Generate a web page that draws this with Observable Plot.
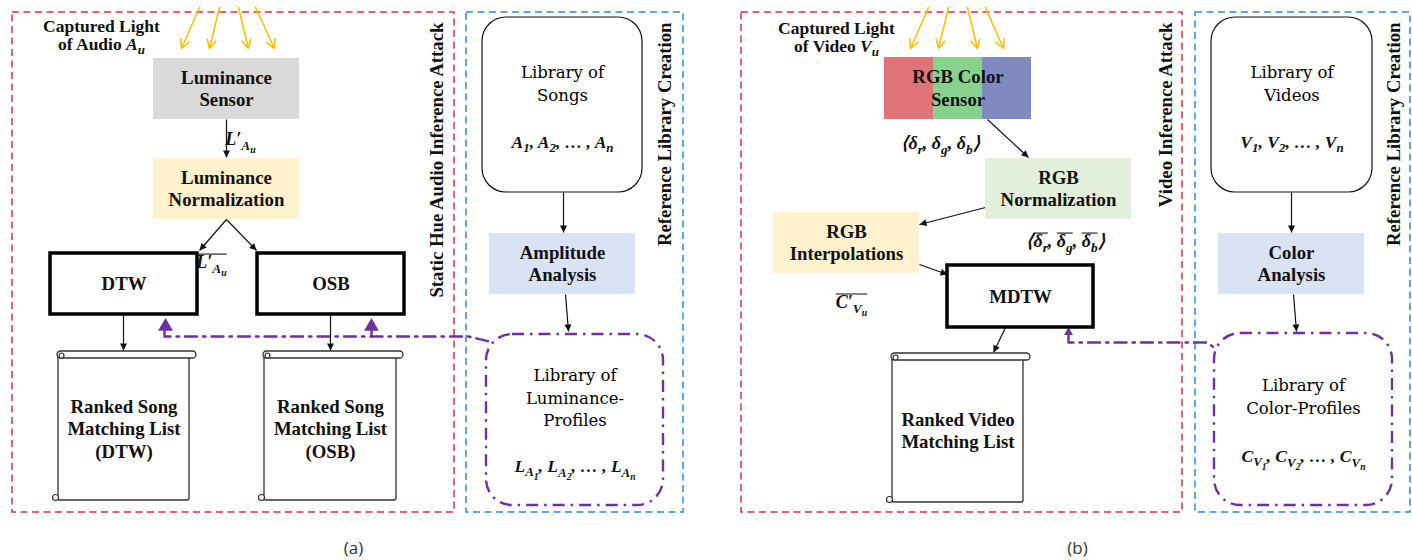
<!DOCTYPE html>
<html><head><meta charset="utf-8">
<script src="https://cdn.jsdelivr.net/npm/d3@7"></script>
<script src="https://cdn.jsdelivr.net/npm/@observablehq/plot@0.6"></script>
<style>html,body{margin:0;padding:0;background:#fff}</style>
</head><body><div id="chart"></div>
<script>
// ---------------- diagram content ----------------
const frameNames = ["Static Hue Audio Inference Attack", "Reference Library Creation", "Video Inference Attack", "Reference Library Creation"];
const frameKinds = ["attack", "library", "attack", "library"];
const frameLayout = [[12,454,12,512,436],[466,683,12,512,664],[741,1182,12,512,1165],[1195,1410,12,512,1393]];

const processLabels = [["Luminance","Sensor"],["Luminance","Normalization"],["Amplitude","Analysis"],["RGB","Normalization"],["RGB","Interpolations"],["Color","Analysis"]];
const processKinds = ["sensor","normalize","analysis","normalize2","interp","analysis"];
const processLayout = [[153,299,58,119],[153,299,158,219],[489,635,233,294],[985,1131,158,219],[773,919,212,273],[1218,1364,233,294]];

const sensorLabel = ["RGB Color","Sensor"];
const sensorBands = ["red","green","blue"];
const sensorLayout = [[884,933,57,119],[933,982,57,119],[982,1031,57,119]];

const matcherNames = ["DTW","OSB","MDTW"];
const matcherLayout = [[50,197,253,314],[257,404,253,314],[947,1093,265,327]];

const listLabels = [["Ranked Song","Matching List","(DTW)"],["Ranked Song","Matching List","(OSB)"],["Ranked Video","Matching List"]];
const listLayout = [[58,196,351,500],[264,403,351,500],[892,1030,353,502]];

const libraryTitles = [["Library of","Songs"],["Library of","Videos"],["Library of","Luminance-","Profiles"],["Library of","Color-Profiles"]];
const libraryItems = ["A_{1}, A_{2}, … , A_{n}", "V_{1}, V_{2}, … , V_{n}", "L_{A_{1}}, L_{A_{2}}, … , L_{A_{n}}", "C_{V_{1}}, C_{V_{2}}, … , C_{V_{n}}"];
const libraryKinds = ["source","source","profile","profile"];
const libraryLayout = [[482,642,17,192,83.5,142],[1211,1372,17,192,83.5,142],[486,663,334,505,398,466],[1214,1392,333,505,396.5,456]];

const capturedLabels = [["Captured Light","of Audio *{A_{u}}"],["Captured Light","of Video *{V_{u}}"]];
const capturedLayout = [[101,26],[836,28]];

const signalLabels = ["L′_{A_{u}}", "~{L′_{A_{u}}}", "⟨δ_{r}, δ_{g}, δ_{b}⟩", "⟨~{δ_{r}}, ~{δ_{g}}, ~{δ_{b}}⟩", "~{C′_{V_{u}}}"];
const signalLayout = [[240,139,"start"],[211,262,"start"],[940,143,"middle"],[1065,241,"middle"],[851,302,"start"]];

// flow arrows [x1,y1,x2,y2]
const flows = [[226,119,226,157],[226,219,199,250],[226,219,256,250],[123,314,123,350],[330,314,330,350],[563,192,563,232],[565,294,568,331],
               [987,119,1028,157],[985,207,919,224],[919,264,947,274],[1005,327,993,352],[1291,192,1291,232],[1293,294,1296,331]];
// light rays [x1,y1,x2,y2]
const rays = [[199,7,181,48],[219,7,209,48],[238,7,248,48],[255,7,274,48],[928,7,910,48],[948,7,938,48],[967,7,977,48],[985,7,1003,48]];
// profile feedback connectors
const feedbackPaths = [[[164,330],[164,336],[468,336],[489,341]],[[371,330],[371,336]],[[1068,335],[1068,342],[1207,342],[1217,350]]];
const feedbackHeads = [[165,326,5.5],[371,326,5.5],[1068,332,3.3]];

const captions = ["(a)","(b)"];
const captionX = [353,1077];

// ---------------- styles ----------------
const fills = {sensor:"#d9d9d9", normalize:"#fff2cc", analysis:"#dae3f3", normalize2:"#e2efda", interp:"#fff2cc"};
const bandColors = {red:"#e07478", green:"#89d28e", blue:"#8189c1"};
const frameColors = {attack:"#d8333d", library:"#2e8ad4"};
const PURPLE = "#7030a0";
const BOLD = "Liberation Serif";
const BOOK = "DejaVu Serif";
const FS = 18.8;

// ---------------- build tables ----------------
const frames = frameNames.map((name,i)=>({name, kind:frameKinds[i], x1:frameLayout[i][0], x2:frameLayout[i][1], y1:frameLayout[i][2], y2:frameLayout[i][3], lx:frameLayout[i][4]}));
const procs = processLabels.map((lines,i)=>({lines, kind:processKinds[i], x1:processLayout[i][0], x2:processLayout[i][1], y1:processLayout[i][2], y2:processLayout[i][3]}));
const bands = sensorBands.map((b,i)=>({band:b, x1:sensorLayout[i][0], x2:sensorLayout[i][1], y1:sensorLayout[i][2], y2:sensorLayout[i][3]}));
const matchers = matcherNames.map((name,i)=>({name, x1:matcherLayout[i][0], x2:matcherLayout[i][1], y1:matcherLayout[i][2], y2:matcherLayout[i][3]}));
const lists = listLabels.map((lines,i)=>({lines, bx:listLayout[i][0], x2:listLayout[i][1], y1:listLayout[i][2], y2:listLayout[i][3]}));
const libs = libraryTitles.map((lines,i)=>({lines, item:libraryItems[i], kind:libraryKinds[i], x1:libraryLayout[i][0], x2:libraryLayout[i][1], y1:libraryLayout[i][2], y2:libraryLayout[i][3], ty:libraryLayout[i][4], my:libraryLayout[i][5]}));

function expandLines(items, cx, cy, lh) {
  const out = [];
  for (const d of items) {
    const n = d.lines.length;
    d.lines.forEach((t,j)=>out.push({t, x:cx(d), y:cy(d) + (j-(n-1)/2)*lh}));
  }
  return out;
}
const procText = expandLines(procs, d=>(d.x1+d.x2)/2, d=>(d.y1+d.y2)/2, 22);
const sensorText = expandLines([{lines:sensorLabel}], ()=>(bands[0].x1+bands[2].x2)/2, ()=>(bands[0].y1+bands[0].y2)/2, 22.5);
const listText = expandLines(lists, d=>(d.bx + d.x2 - 7)/2, d=>(d.y1+d.y2)/2 + 3, 22.5);
const libText = expandLines(libs, d=>(d.x1+d.x2)/2, d=>d.ty, 22.5);
const capText = expandLines(capturedLabels.map((lines,i)=>({lines, i})), d=>capturedLayout[d.i][0], d=>capturedLayout[d.i][1]+9, 18);
const signals = signalLabels.map((t,i)=>({t, x:signalLayout[i][0], y:signalLayout[i][1], a:signalLayout[i][2]}));
const flowRows = flows.map(([x1,y1,x2,y2])=>({x1,y1,x2,y2}));
const rayRows = rays.map(([x1,y1,x2,y2])=>({x1,y1,x2,y2}));
const fbRows = feedbackPaths.flatMap((p,k)=>p.map(([x,y])=>({x,y,k})));
const fbHeads = feedbackHeads.map(([x,y,r])=>({x,y,r}));
const capRows = captions.map((t,i)=>({t, x:captionX[i]}));

const svg = Plot.plot({
  width: 1412, height: 560,
  margin: 0,
  x: {domain:[0,1412], range:[0,1412], axis:null},
  y: {domain:[0,560], range:[0,560], axis:null},
  r: {type:"identity"},
  style: {background:"#fff"},
  marks: [
    // frames
    Plot.rect(frames, {x1:"x1", x2:"x2", y1:"y1", y2:"y2", fill:"none", stroke:d=>frameColors[d.kind], strokeWidth:1.5, strokeDasharray:"7,4.5"}),
    Plot.text(frames, {x:"lx", y:d=>d.y1+10, text:"name", rotate:-90, textAnchor:"end", fontFamily:BOLD, fontWeight:"bold", fontSize:FS, fill:"#111"}),
    // feedback connectors
    Plot.line(fbRows, {x:"x", y:"y", z:"k", stroke:PURPLE, strokeWidth:2.4, strokeDasharray:"12,6,2.5,6", curve:"linear"}),
    Plot.dot(fbHeads, {x:"x", y:"y", r:"r", symbol:"triangle", fill:PURPLE, stroke:"none"}),
    // light rays
    Plot.arrow(rayRows, {x1:"x1", y1:"y1", x2:"x2", y2:"y2", stroke:"#ffc000", strokeWidth:1.6, headLength:9, headAngle:55}),
    // flow arrows
    Plot.link(flowRows, {x1:"x1", y1:"y1", x2:"x2", y2:"y2", stroke:"#111", strokeWidth:1.2, ariaLabel:"flow"}),
    // process boxes
    Plot.rect(procs, {x1:"x1", x2:"x2", y1:"y1", y2:"y2", fill:d=>fills[d.kind]}),
    Plot.rect(bands, {x1:"x1", x2:"x2", y1:"y1", y2:"y2", fill:d=>bandColors[d.band]}),
    Plot.text(procText, {x:"x", y:"y", text:"t", fontFamily:BOLD, fontWeight:"bold", fontSize:FS, fill:"#111"}),
    Plot.text(sensorText, {x:"x", y:"y", text:"t", fontFamily:BOLD, fontWeight:"bold", fontSize:FS, fill:"#111"}),
    // matcher boxes
    Plot.rect(matchers, {x1:"x1", x2:"x2", y1:"y1", y2:"y2", fill:"#fff", stroke:"#000", strokeWidth:3.5}),
    Plot.text(matchers, {x:d=>(d.x1+d.x2)/2, y:d=>(d.y1+d.y2)/2, text:"name", fontFamily:BOLD, fontWeight:"bold", fontSize:FS, fill:"#111"}),
    // scrolls
    Plot.rect(lists, {x1:"bx", x2:d=>d.x2-7, y1:d=>d.y1+4, y2:"y2", fill:"#fff", stroke:"#333", strokeWidth:1.3, rx:2}),
    Plot.rect(lists, {x1:d=>d.bx-1, x2:"x2", y1:"y1", y2:d=>d.y1+7, fill:"#fff", stroke:"#333", strokeWidth:1.3, rx:3.5}),
    Plot.dot(lists, {x:d=>d.bx+3, y:d=>d.y1+4, r:2.5, fill:"#fff", stroke:"#333", strokeWidth:1.2}),
    Plot.dot(lists, {x:d=>d.bx-3, y:d=>d.y2-3, r:3, fill:"#fff", stroke:"#333", strokeWidth:1.2}),
    Plot.text(listText, {x:"x", y:"y", text:"t", fontFamily:BOLD, fontWeight:"bold", fontSize:FS, fill:"#111"}),
    // libraries
    Plot.rect(libs.filter(d=>d.kind==="source"), {x1:"x1", x2:"x2", y1:"y1", y2:"y2", fill:"#fff", stroke:"#111", strokeWidth:1.2, rx:24}),
    Plot.rect(libs.filter(d=>d.kind==="profile"), {x1:"x1", x2:"x2", y1:"y1", y2:"y2", fill:"none", stroke:PURPLE, strokeWidth:2.4, strokeDasharray:"12,6,2.5,6", rx:26}),
    Plot.text(libText, {x:"x", y:"y", text:"t", fontFamily:BOOK, fontSize:16.5, fill:"#000"}),
    Plot.text(libs, {x:d=>(d.x1+d.x2)/2, y:"my", text:"item", fontFamily:BOLD, fontWeight:"bold", fontStyle:"italic", fontSize:17.5, fill:"#111"}),
    // captured light labels
    Plot.text(capText, {x:"x", y:"y", text:"t", fontFamily:BOLD, fontWeight:"bold", fontSize:17.5, fill:"#111"}),
    // signal labels
    Plot.text(signals, {x:"x", y:"y", text:"t", textAnchor:d=>d.a, fontFamily:BOLD, fontWeight:"bold", fontStyle:"italic", fontSize:18, fill:"#111"}),
    // captions
    Plot.text(capRows, {x:"x", y:548, text:"t", fontFamily:"Open Sans", fontSize:17, fill:"#333"})
  ]
});

// filled arrowheads on flow links
const defs = d3.select(svg).insert("defs", ":first-child");
defs.append("marker").attr("id","tri").attr("viewBox","0 0 10 10").attr("refX",10).attr("refY",5)
  .attr("markerWidth",8).attr("markerHeight",7).attr("markerUnits","userSpaceOnUse").attr("orient","auto")
  .append("path").attr("d","M0,0L10,5L0,10z").attr("fill","#111");
d3.select(svg).selectAll('g[aria-label="flow"] path, g[aria-label="link"] path').attr("marker-end","url(#tri)");

// rich text: _{sub}, ~{overline}, *{italic}
let overId = 0;
d3.select(svg).selectAll("text").each(function() {
  const s = this.textContent;
  if (!/[_~*]\{/.test(s)) return;
  const g = this.closest("[font-size]");
  const fs = parseFloat(g ? g.getAttribute("font-size") : 16) || 16;
  const segs = [];
  (function walk(i, st) {
    let buf = "";
    const flush = () => { if (buf) { segs.push({text:buf, ...st}); buf = ""; } };
    while (i < s.length) {
      const c = s[i];
      if ((c==="_"||c==="~"||c==="*") && s[i+1]==="{") {
        flush();
        const ns = {...st, overs:[...st.overs]};
        if (c==="_") { ns.shift = st.shift + 0.25*st.scale; ns.scale = st.scale*0.74; }
        if (c==="~") ns.overs.push(++overId);
        if (c==="*") ns.italic = true;
        i = walk(i+2, ns);
      } else if (c==="}") { flush(); return i+1; }
      else { buf += c; i++; }
    }
    flush(); return i;
  })(0, {shift:0, scale:1, italic:false, overs:[]});
  this.textContent = "";
  let prev = 0, idx = 0;
  const groups = new Map();
  for (const sg of segs) {
    const t = d3.select(this).append("tspan").text(sg.text)
      .attr("font-size", (fs*sg.scale).toFixed(2))
      .attr("dy", ((sg.shift - prev)*fs).toFixed(2));
    if (sg.italic) t.attr("font-style","italic");
    prev = sg.shift;
    for (const o of sg.overs) {
      if (!groups.has(o)) groups.set(o, {start:idx, end:idx+sg.text.length});
      else groups.get(o).end = idx + sg.text.length;
    }
    idx += sg.text.length;
  }
  this.__overs = {fs, groups:[...groups.values()]};
});

document.getElementById("chart").append(svg);

// draw overlines once laid out
d3.select(svg).selectAll("text").each(function() {
  if (!this.__overs) return;
  const {fs, groups} = this.__overs;
  for (const gr of groups) {
    const a = this.getExtentOfChar(gr.start), b = this.getExtentOfChar(gr.end-1);
    const y = a.y + fs*0.1;
    d3.select(this.parentNode).append("line")
      .attr("x1", a.x).attr("x2", b.x + b.width).attr("y1", y).attr("y2", y)
      .attr("stroke", "#111").attr("stroke-width", 1.1)
      .attr("transform", this.getAttribute("transform"));
  }
});
</script>
</body></html>
